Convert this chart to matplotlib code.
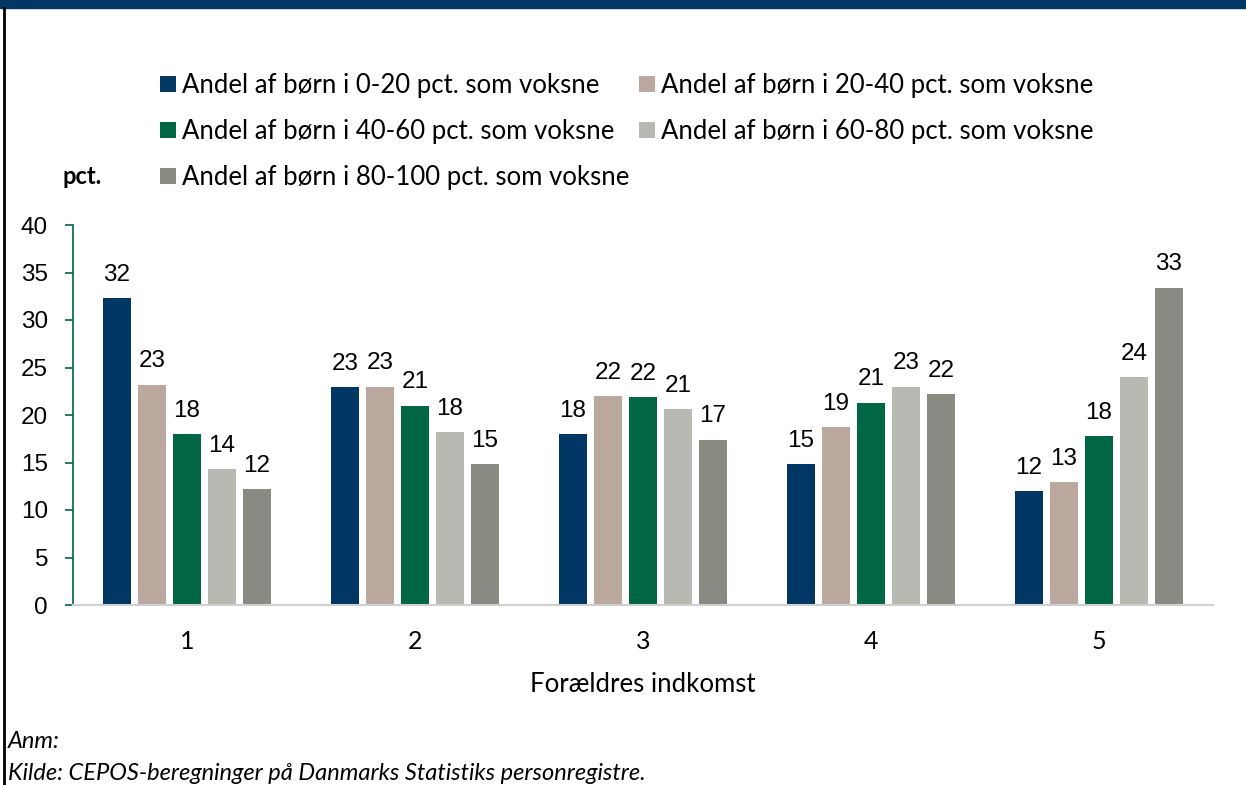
import matplotlib
matplotlib.use("Agg")
import matplotlib.pyplot as plt
from matplotlib.patches import Rectangle
import numpy as np

categories = ["1", "2", "3", "4", "5"]
series_names = [
    "Andel af børn i 0-20 pct. som voksne",
    "Andel af børn i 20-40 pct. som voksne",
    "Andel af børn i 40-60 pct. som voksne",
    "Andel af børn i 60-80 pct. som voksne",
    "Andel af børn i 80-100 pct. som voksne",
]
s0_20 = [32.3, 22.9, 18.0, 14.8, 12.0]
s20_40 = [23.2, 23.0, 22.0, 18.7, 12.9]
s40_60 = [18.0, 21.0, 21.9, 21.3, 17.8]
s60_80 = [14.3, 18.2, 20.6, 23.0, 24.0]
s80_100 = [12.2, 14.8, 17.4, 22.2, 33.4]
series = [s0_20, s20_40, s40_60, s60_80, s80_100]
colors = ["#003764", "#BBA99F", "#006643", "#B8B9B3", "#8A8A82"]
yticks = [0, 5, 10, 15, 20, 25, 30, 35, 40]

W, H = 1246, 785
fig = plt.figure(figsize=(W / 100, H / 100), dpi=100)
lato = ["Lato", "DejaVu Sans"]
num = ["Liberation Sans", "DejaVu Sans"]

# Title band and frame
fig.patches.append(Rectangle((0, 1 - 8 / H), 1, 8 / H, transform=fig.transFigure,
                             color="#003764", zorder=0))
fig.add_artist(plt.Line2D([3.5 / W, 3.5 / W], [0, 1 - 8 / H], transform=fig.transFigure,
                          color="black", lw=2))

ax = fig.add_axes([73 / W, 1 - 605 / H, (1213 - 73) / W, (605 - 225) / H])
x = np.arange(len(categories))
bw = 28 / 228
pitch = 35 / 228
for i, (vals, c, name) in enumerate(zip(series, colors, series_names)):
    pos = x + (i - 2) * pitch
    ax.bar(pos, vals, width=bw, color=c, label=name, zorder=2)
    for p, v in zip(pos, vals):
        ax.text(p, v + 1.3, f"{v:.0f}", ha="center", va="bottom",
                fontsize=17.5, family=num, color="black")

ax.set_xlim(-0.5, 4.5)
ax.set_ylim(0, 40)
ax.set_xticks(x)
ax.set_xticklabels(categories, fontsize=18, family=lato)
ax.set_yticks(yticks)
ax.set_yticklabels([str(t) for t in yticks], fontsize=17.5, family=num)
for s in ["top", "right"]:
    ax.spines[s].set_visible(False)
ax.spines["left"].set_color("#006643")
ax.spines["left"].set_linewidth(1.2)
ax.spines["bottom"].set_color("#D0D0D0")
ax.spines["bottom"].set_linewidth(1.5)
ax.tick_params(axis="y", direction="out", length=6, color="#006643", width=1.2, pad=12)
ax.tick_params(axis="x", length=0, pad=18)
ax.set_xlabel("Forældres indkomst", fontsize=18.5, family=lato, labelpad=14)

fig.text(63 / W, 1 - 177 / H, "pct.", fontsize=17, family=lato, weight="bold",
         ha="left", va="center")

handles, labels = ax.get_legend_handles_labels()
order = [0, 2, 4, 1, 3]
leg = fig.legend([handles[k] for k in order], [labels[k] for k in order], ncol=2,
                 loc="upper left", bbox_to_anchor=(160 / W, 1 - 73 / H), frameon=False,
                 prop={"family": lato, "size": 18.5}, handlelength=0.62, handleheight=0.62,
                 handletextpad=0.25, columnspacing=0.35, labelspacing=0.82,
                 borderaxespad=0, borderpad=0)

fig.text(8 / W, 1 - 742 / H, "Anm:", fontsize=17, family=lato, style="italic",
         ha="left", va="center")
fig.text(8 / W, 1 - 773 / H, "Kilde: CEPOS-beregninger på Danmarks Statistiks personregistre.",
         fontsize=17, family=lato, style="italic", ha="left", va="center")

fig.savefig("out.png", dpi=100)
